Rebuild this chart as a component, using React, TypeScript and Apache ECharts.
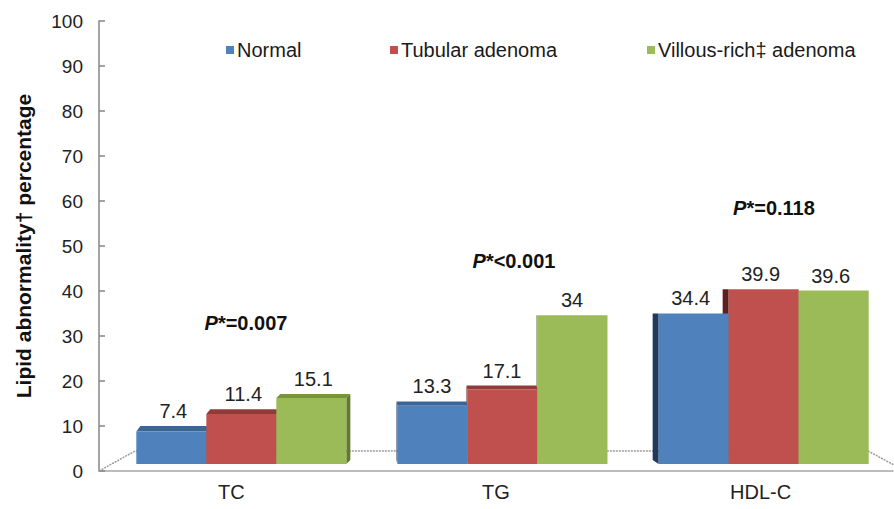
import React, { useEffect, useRef } from "react";
import * as echarts from "echarts";

const categories = ["TC", "TG", "HDL-C"];
const seriesNames = ["Normal", "Tubular adenoma", "Villous-rich\u2021 adenoma"];
const normalValues = [7.4, 13.3, 34.4];
const tubularValues = [11.4, 17.1, 39.9];
const villousValues = [15.1, 34, 39.6];
const pValues = ["=0.007", "<0.001", "=0.118"];
const yMin = 0;
const yMax = 100;
const yInterval = 10;

const FONT = "'Liberation Sans', Arial, sans-serif";
const frontColors = ["#4F81BD", "#C0504D", "#9BBB59"];
const topColors = ["#3A6596", "#913B39", "#77933C"];
const sideColors = ["#1F3A5C", "#5E1F1D", "#5F7A2C"];

const makeRenderItem = (s: number) => (params: any, api: any) => {
  const cat = api.value(0);
  const v = api.value(1);
  const base = api.coord([cat, 0]);
  const topPt = api.coord([cat, v]);
  const band = api.size([1, 0])[0];
  const bw = band * 0.2645;
  const shift = 10 - 3.5 * cat;
  const cx = base[0] + shift + (s - 1) * bw;
  const x0 = cx - bw / 2;
  const x1 = cx + bw / 2;
  const yb = base[1] - 7;
  const yt = yb - (base[1] - topPt[1]) * 0.973;
  const dx = 4 - 5 * cat;
  const dy = Math.max(0, Math.min(6, (yt - 318) * 0.05));
  const dyB = Math.max(0, Math.min(4, (yb - 318) * 0.03));
  const children: any[] = [];
  const ex = dx > 0 ? x1 : x0;
  children.push({
    type: "polygon",
    z2: 0,
    shape: { points: [[ex, yt], [ex + dx, yt - dy], [ex + dx, yb - dyB], [ex, yb]] },
    style: { fill: sideColors[s] },
  });
  if (dy > 0.5) {
    children.push({
      type: "polygon",
      z2: 1,
      shape: { points: [[x0, yt], [x1, yt], [x1 + dx, yt - dy], [x0 + dx, yt - dy]] },
      style: { fill: topColors[s] },
    });
  }
  children.push({
    type: "rect",
    z2: 2,
    shape: { x: x0, y: yt, width: bw, height: yb - yt },
    style: { fill: frontColors[s] },
  });
  children.push({
    type: "text",
    z2: 3,
    style: {
      text: String(v),
      x: cx + dx / 2,
      y: yt - dy - 5,
      align: "center",
      verticalAlign: "bottom",
      fontFamily: FONT,
      fontSize: 20,
      fill: "#222",
    },
  });
  return { type: "group", children };
};

export default function App() {
  const ref = useRef<HTMLDivElement>(null);
  useEffect(() => {
    if (!ref.current) return;
    const chart = echarts.init(ref.current, undefined, { renderer: "svg" });
    const seriesData = [normalValues, tubularValues, villousValues];
    const legendLefts = [221, 385, 642];
    const pPos = [
      [246, 323],
      [514, 261],
      [774, 208],
    ];
    const option: any = {
      animation: false,
      backgroundColor: "#ffffff",
      textStyle: { fontFamily: FONT },
      grid: { left: 99, right: 1, top: 21, bottom: 38, containLabel: false },
      legend: seriesNames.map((n, i) => ({
        data: [n],
        left: legendLefts[i],
        top: 35,
        icon: "rect",
        itemWidth: 8,
        itemHeight: 8,
        itemGap: 0,
        textStyle: { fontFamily: FONT, fontSize: 20, color: "#1a1a1a", padding: [0, 0, 0, -2] },
        selectedMode: false,
      })),
      xAxis: {
        type: "category",
        data: categories,
        axisLine: { show: true, lineStyle: { color: "#A6A6A6", width: 1.5 } },
        axisTick: { show: false },
        axisLabel: { fontFamily: FONT, fontSize: 20, color: "#222", margin: 11 },
        splitLine: { show: false },
      },
      yAxis: {
        type: "value",
        min: yMin,
        max: yMax,
        interval: yInterval,
        name: "Lipid abnormality\u2020 percentage",
        nameLocation: "middle",
        nameRotate: 90,
        nameGap: 65,
        nameTextStyle: { fontFamily: FONT, fontSize: 21, fontWeight: "bold", color: "#111" },
        axisLine: { show: true, lineStyle: { color: "#868686", width: 1.5 } },
        axisTick: { show: true, inside: true, length: 6, lineStyle: { color: "#868686", width: 1.5 } },
        axisLabel: { fontFamily: FONT, fontSize: 19, color: "#222", margin: 16 },
        splitLine: { show: false },
      },
      graphic: [
        {
          type: "polyline",
          z: 1,
          shape: { points: [[99, 471], [135, 451], [868, 451], [894, 465]] },
          style: { stroke: "#9A9A9A", lineWidth: 1.5, lineDash: [2, 1], fill: "none" },
        },
        ...pValues.map((p, i) => ({
          type: "text",
          z: 10,
          style: {
            text: "{p|P}{r|*" + p + "}",
            x: pPos[i][0],
            y: pPos[i][1],
            align: "center",
            verticalAlign: "middle",
            rich: {
              p: { fontFamily: FONT, fontSize: 20, fontWeight: "bold", fontStyle: "italic", fill: "#111" },
              r: { fontFamily: FONT, fontSize: 20, fontWeight: "bold", fill: "#111" },
            },
          },
        })),
      ],
      series: seriesData.map((arr, s) => ({
        type: "custom",
        name: seriesNames[s],
        itemStyle: { color: frontColors[s] },
        renderItem: makeRenderItem(s),
        encode: { x: 0, y: 1 },
        data: arr.map((v, i) => [i, v]),
        clip: false,
      })),
    };
    chart.setOption(option);
    return () => chart.dispose();
  }, []);
  return (
    <div
      ref={ref}
      style={{ position: "fixed", left: 0, top: 0, width: 894, height: 509, background: "#fff" }}
    />
  );
}
